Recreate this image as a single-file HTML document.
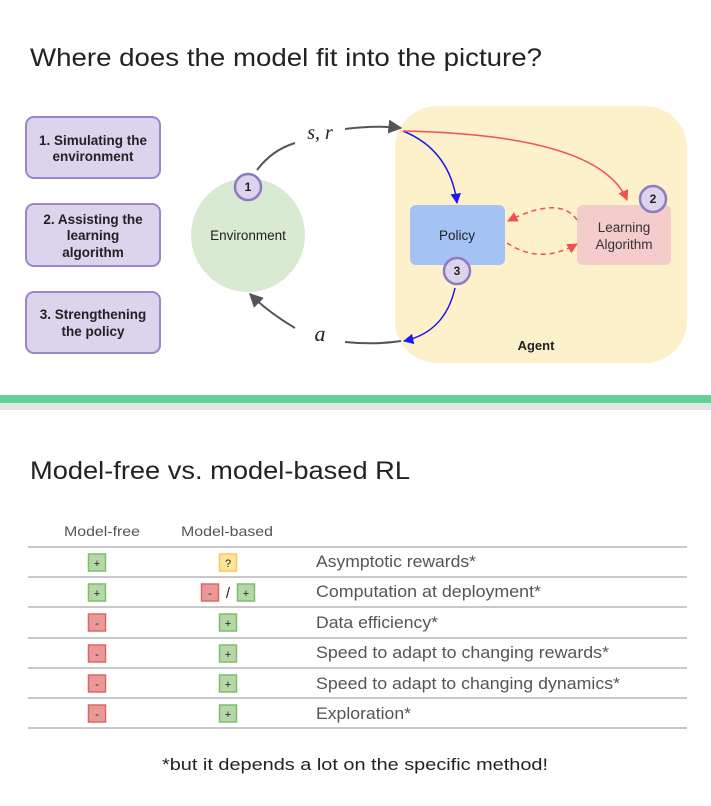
<!DOCTYPE html>
<html><head><meta charset="utf-8"><style>
html,body{margin:0;padding:0;background:#fff;}
svg{display:block;font-family:"Liberation Sans",sans-serif;}
</style></head><body>
<svg width="711" height="806" viewBox="0 0 711 806" xmlns="http://www.w3.org/2000/svg">
<defs>
<marker id="ag" viewBox="0 0 10 10" refX="9" refY="5" markerWidth="7" markerHeight="7" orient="auto"><path d="M0,0L10,5L0,10z" fill="#555"/></marker>
<marker id="ab" viewBox="0 0 10 10" refX="9" refY="5" markerWidth="7" markerHeight="7" orient="auto"><path d="M0,0L10,5L0,10z" fill="#1a1aee"/></marker>
<marker id="ar" viewBox="0 0 10 10" refX="9" refY="5" markerWidth="7" markerHeight="7" orient="auto"><path d="M0,0L10,5L0,10z" fill="#f05050"/></marker>
</defs>
<text x="30" y="66" font-size="25" fill="#222" textLength="512" lengthAdjust="spacingAndGlyphs">Where does the model fit into the picture?</text>

<g fill="#dcd3ec" stroke="#9a86c8" stroke-width="2">
<rect x="26" y="117" width="134" height="61" rx="8"/>
<rect x="26" y="204" width="134" height="62" rx="8"/>
<rect x="26" y="292" width="134" height="61" rx="8"/>
</g>
<g font-size="13.5" font-weight="bold" fill="#222" text-anchor="middle">
<text x="93" y="145">1. Simulating the</text><text x="93" y="161">environment</text>
<text x="93" y="224">2. Assisting the</text><text x="93" y="240">learning</text><text x="93" y="257">algorithm</text>
<text x="93" y="319">3. Strengthening</text><text x="93" y="336">the policy</text>
</g>

<rect x="395" y="106" width="292" height="257" rx="42" fill="#fdf1cc"/>
<text x="536" y="350" font-size="13" font-weight="bold" text-anchor="middle" fill="#222">Agent</text>
<rect x="410" y="205" width="95" height="60" rx="6" fill="#a4c2f4"/>
<text x="457" y="240" font-size="13.5" text-anchor="middle" fill="#222">Policy</text>
<rect x="577" y="205" width="94" height="60" rx="6" fill="#f4cccc"/>
<text x="624" y="232" font-size="13.5" text-anchor="middle" fill="#333">Learning</text>
<text x="624" y="249" font-size="13.5" text-anchor="middle" fill="#333">Algorithm</text>

<ellipse cx="248" cy="235" rx="57" ry="57" fill="#d9ead3"/>
<text x="248" y="240" font-size="13.5" text-anchor="middle" fill="#222">Environment</text>

<g fill="none" stroke="#555" stroke-width="2">
<path d="M257,170 Q272,150 295,143"/>
<path d="M345,129 Q375,125 401,128" marker-end="url(#ag)"/>
<path d="M295,328 Q268,312 250,294" marker-end="url(#ag)"/>
<path d="M345,342 Q375,345 401,341"/>
</g>
<text x="320" y="139" font-size="20" font-style="italic" font-family="Liberation Serif,serif" text-anchor="middle" fill="#222">s, r</text>
<text x="320" y="341" font-size="22" font-style="italic" font-family="Liberation Serif,serif" text-anchor="middle" fill="#222">a</text>

<path d="M403,131 Q450,150 457,203" fill="none" stroke="#1a1aee" stroke-width="1.5" marker-end="url(#ab)"/>
<path d="M455,288 Q445,332 404,341" fill="none" stroke="#1a1aee" stroke-width="1.5" marker-end="url(#ab)"/>
<path d="M403,131 Q600,135 627,200" fill="none" stroke="#f05050" stroke-width="1.5" marker-end="url(#ar)"/>
<path d="M577,220 Q560,195 508,221" fill="none" stroke="#f05050" stroke-width="1.5" stroke-dasharray="5,4" marker-end="url(#ar)"/>
<path d="M507,243 Q540,265 577,244" fill="none" stroke="#f05050" stroke-width="1.5" stroke-dasharray="5,4" marker-end="url(#ar)"/>

<g fill="#dcd3ec" stroke="#8e7cc3" stroke-width="2.5">
<circle cx="248" cy="187" r="13"/><circle cx="653" cy="199" r="13"/><circle cx="457" cy="271" r="13"/>
</g>
<g font-size="12" font-weight="bold" text-anchor="middle" fill="#222">
<text x="248" y="191">1</text><text x="653" y="203">2</text><text x="457" y="275">3</text>
</g>

<rect x="0" y="395" width="711" height="8" fill="#5fd197"/>
<rect x="0" y="403" width="711" height="7" fill="#e4e4e4"/>

<text x="30" y="479" font-size="25" fill="#222" textLength="380" lengthAdjust="spacingAndGlyphs">Model-free vs. model-based RL</text>

<g font-size="14" fill="#555">
<text x="64" y="536" textLength="76" lengthAdjust="spacingAndGlyphs">Model-free</text><text x="181" y="536" textLength="92" lengthAdjust="spacingAndGlyphs">Model-based</text>
</g>
<g stroke="#c8c8c8" stroke-width="2">
<line x1="28" y1="547" x2="687" y2="547"/><line x1="28" y1="577" x2="687" y2="577"/>
<line x1="28" y1="607" x2="687" y2="607"/><line x1="28" y1="638" x2="687" y2="638"/>
<line x1="28" y1="668" x2="687" y2="668"/><line x1="28" y1="698" x2="687" y2="698"/>
<line x1="28" y1="728" x2="687" y2="728"/>
</g>
<g font-size="16.5" fill="#555" lengthAdjust="spacingAndGlyphs">
<text x="316" y="567" textLength="160" lengthAdjust="spacingAndGlyphs">Asymptotic rewards*</text>
<text x="316" y="597" textLength="225" lengthAdjust="spacingAndGlyphs">Computation at deployment*</text>
<text x="316" y="628" textLength="122" lengthAdjust="spacingAndGlyphs">Data efficiency*</text>
<text x="316" y="658" textLength="293" lengthAdjust="spacingAndGlyphs">Speed to adapt to changing rewards*</text>
<text x="316" y="689" textLength="304" lengthAdjust="spacingAndGlyphs">Speed to adapt to changing dynamics*</text>
<text x="316" y="719" textLength="95" lengthAdjust="spacingAndGlyphs">Exploration*</text>
</g>
<g stroke-width="1.5">
<rect x="88.5" y="554" width="17" height="17" fill="#b6d7a8" stroke="#7cbf6a"/>
<rect x="88.5" y="584" width="17" height="17" fill="#b6d7a8" stroke="#7cbf6a"/>
<rect x="88.5" y="614" width="17" height="17" fill="#ea9999" stroke="#e06666"/>
<rect x="88.5" y="645" width="17" height="17" fill="#ea9999" stroke="#e06666"/>
<rect x="88.5" y="675" width="17" height="17" fill="#ea9999" stroke="#e06666"/>
<rect x="88.5" y="705" width="17" height="17" fill="#ea9999" stroke="#e06666"/>
<rect x="219.5" y="554" width="17" height="17" fill="#ffe599" stroke="#f6c760"/>
<rect x="201.5" y="584" width="17" height="17" fill="#ea9999" stroke="#e06666"/>
<rect x="237.5" y="584" width="17" height="17" fill="#b6d7a8" stroke="#7cbf6a"/>
<rect x="219.5" y="614" width="17" height="17" fill="#b6d7a8" stroke="#7cbf6a"/>
<rect x="219.5" y="645" width="17" height="17" fill="#b6d7a8" stroke="#7cbf6a"/>
<rect x="219.5" y="675" width="17" height="17" fill="#b6d7a8" stroke="#7cbf6a"/>
<rect x="219.5" y="705" width="17" height="17" fill="#b6d7a8" stroke="#7cbf6a"/>
</g>
<g font-size="11" fill="#222" text-anchor="middle">
<text x="97" y="567">+</text><text x="97" y="597">+</text>
<text x="97" y="627">-</text><text x="97" y="658">-</text><text x="97" y="688">-</text><text x="97" y="718">-</text>
<text x="228" y="567">?</text><text x="210" y="597">-</text><text x="246" y="597">+</text>
<text x="228" y="627">+</text><text x="228" y="658">+</text><text x="228" y="688">+</text><text x="228" y="718">+</text>
<text x="228" y="598" font-size="15">/</text>
</g>

<text x="162" y="770" font-size="17" fill="#222" textLength="386" lengthAdjust="spacingAndGlyphs">*but it depends a lot on the specific method!</text>
</svg>
</body></html>
